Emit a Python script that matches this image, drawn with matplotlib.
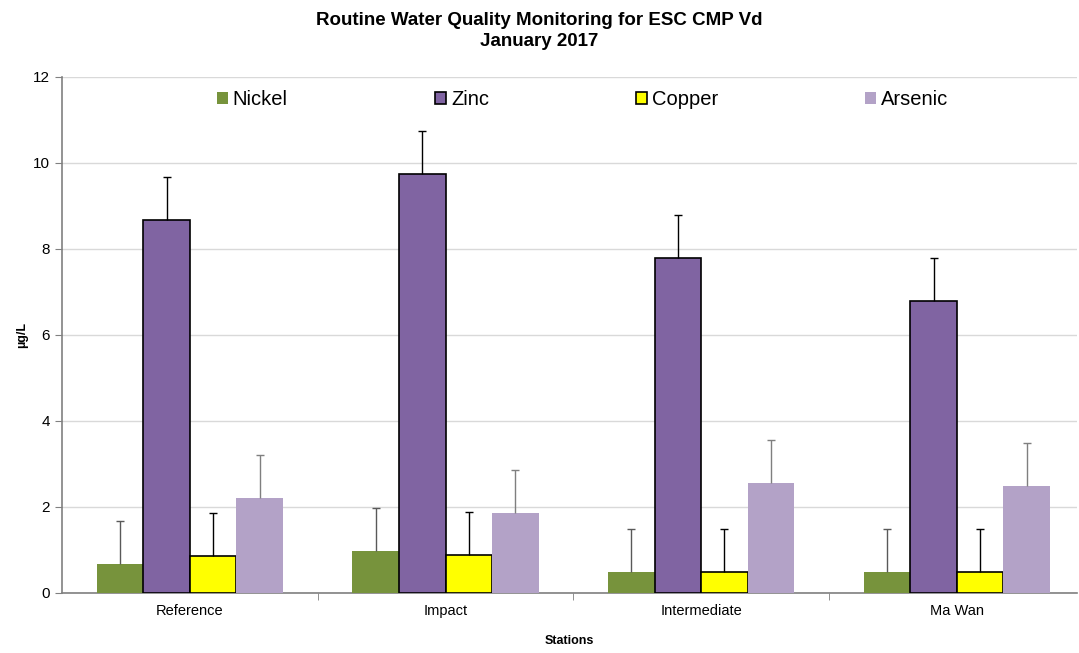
import numpy as np
import matplotlib
matplotlib.use("Agg")
import matplotlib.pyplot as plt

plt.rcParams["font.family"] = ["Liberation Sans", "DejaVu Sans"]

stations = ["Reference", "Impact", "Intermediate", "Ma Wan"]
nickel = [0.67, 0.98, 0.5, 0.5]
zinc = [8.67, 9.75, 7.79, 6.79]
copper = [0.87, 0.88, 0.5, 0.5]
arsenic = [2.2, 1.85, 2.55, 2.48]
err = [1.0, 1.0, 1.0, 1.0]

# name, values, fill, edge, error bar colour
series = [
    ("Nickel", nickel, "#77933C", "none", "#595959"),
    ("Zinc", zinc, "#8064A2", "black", "black"),
    ("Copper", copper, "#FFFF00", "black", "black"),
    ("Arsenic", arsenic, "#B3A2C7", "none", "#7f7f7f"),
]

fig = plt.figure(figsize=(10.79, 6.53), dpi=100)
ax = fig.add_axes([62 / 1079, 60 / 653, 1015 / 1079, 516 / 653])

x = np.arange(len(stations))
w = 0.182
for i, (name, vals, col, ec, errc) in enumerate(series):
    pos = x + (i - 1.5) * w
    ax.bar(pos, vals, w, color=col, edgecolor=ec, linewidth=1.2 if ec != "none" else 0,
           label=name, zorder=3)
    eb = ax.errorbar(pos, vals, yerr=[np.zeros(len(err)), err], fmt="none",
                     ecolor=errc, elinewidth=1, capsize=3, capthick=1, zorder=4)
    eb[1][0].set_visible(False)  # only upper caps

ax.set_xlim(-0.5, 3.47)
ax.set_ylim(0, 12)
ax.set_yticks(range(0, 13, 2))
ax.set_xticks(x)
ax.set_xticklabels(stations, fontsize=10.5)
ax.set_xticks(x[:-1] + 0.5, minor=True)
ax.tick_params(axis="x", which="major", length=0, pad=8)
ax.tick_params(axis="x", which="minor", length=5, color="#808080")
ax.tick_params(axis="y", labelsize=11, length=5, color="#808080")
ax.grid(axis="y", color="#D9D9D9", linewidth=1, zorder=0)
for s in ["top", "right"]:
    ax.spines[s].set_visible(False)
for s in ["left", "bottom"]:
    ax.spines[s].set_color("#808080")
    ax.spines[s].set_linewidth(1.2)

ax.set_ylabel("µg/L", fontsize=9, fontweight="bold")
ax.yaxis.set_label_coords(-34 / 1015, 0.5)
ax.set_xlabel("Stations", fontsize=9, fontweight="bold", labelpad=12)

ax.legend(loc="upper center", bbox_to_anchor=(0.513, 1.01), ncol=4, frameon=False,
          fontsize=14.5, handlelength=0.55, handleheight=0.55, handletextpad=0.25,
          columnspacing=7.3)

fig.text(0.5, 1 - 31 / 653,
         "Routine Water Quality Monitoring for ESC CMP Vd\nJanuary 2017",
         ha="center", va="center", fontsize=13.5, fontweight="bold",
         linespacing=1.35)

fig.savefig("out.png", dpi=100)
